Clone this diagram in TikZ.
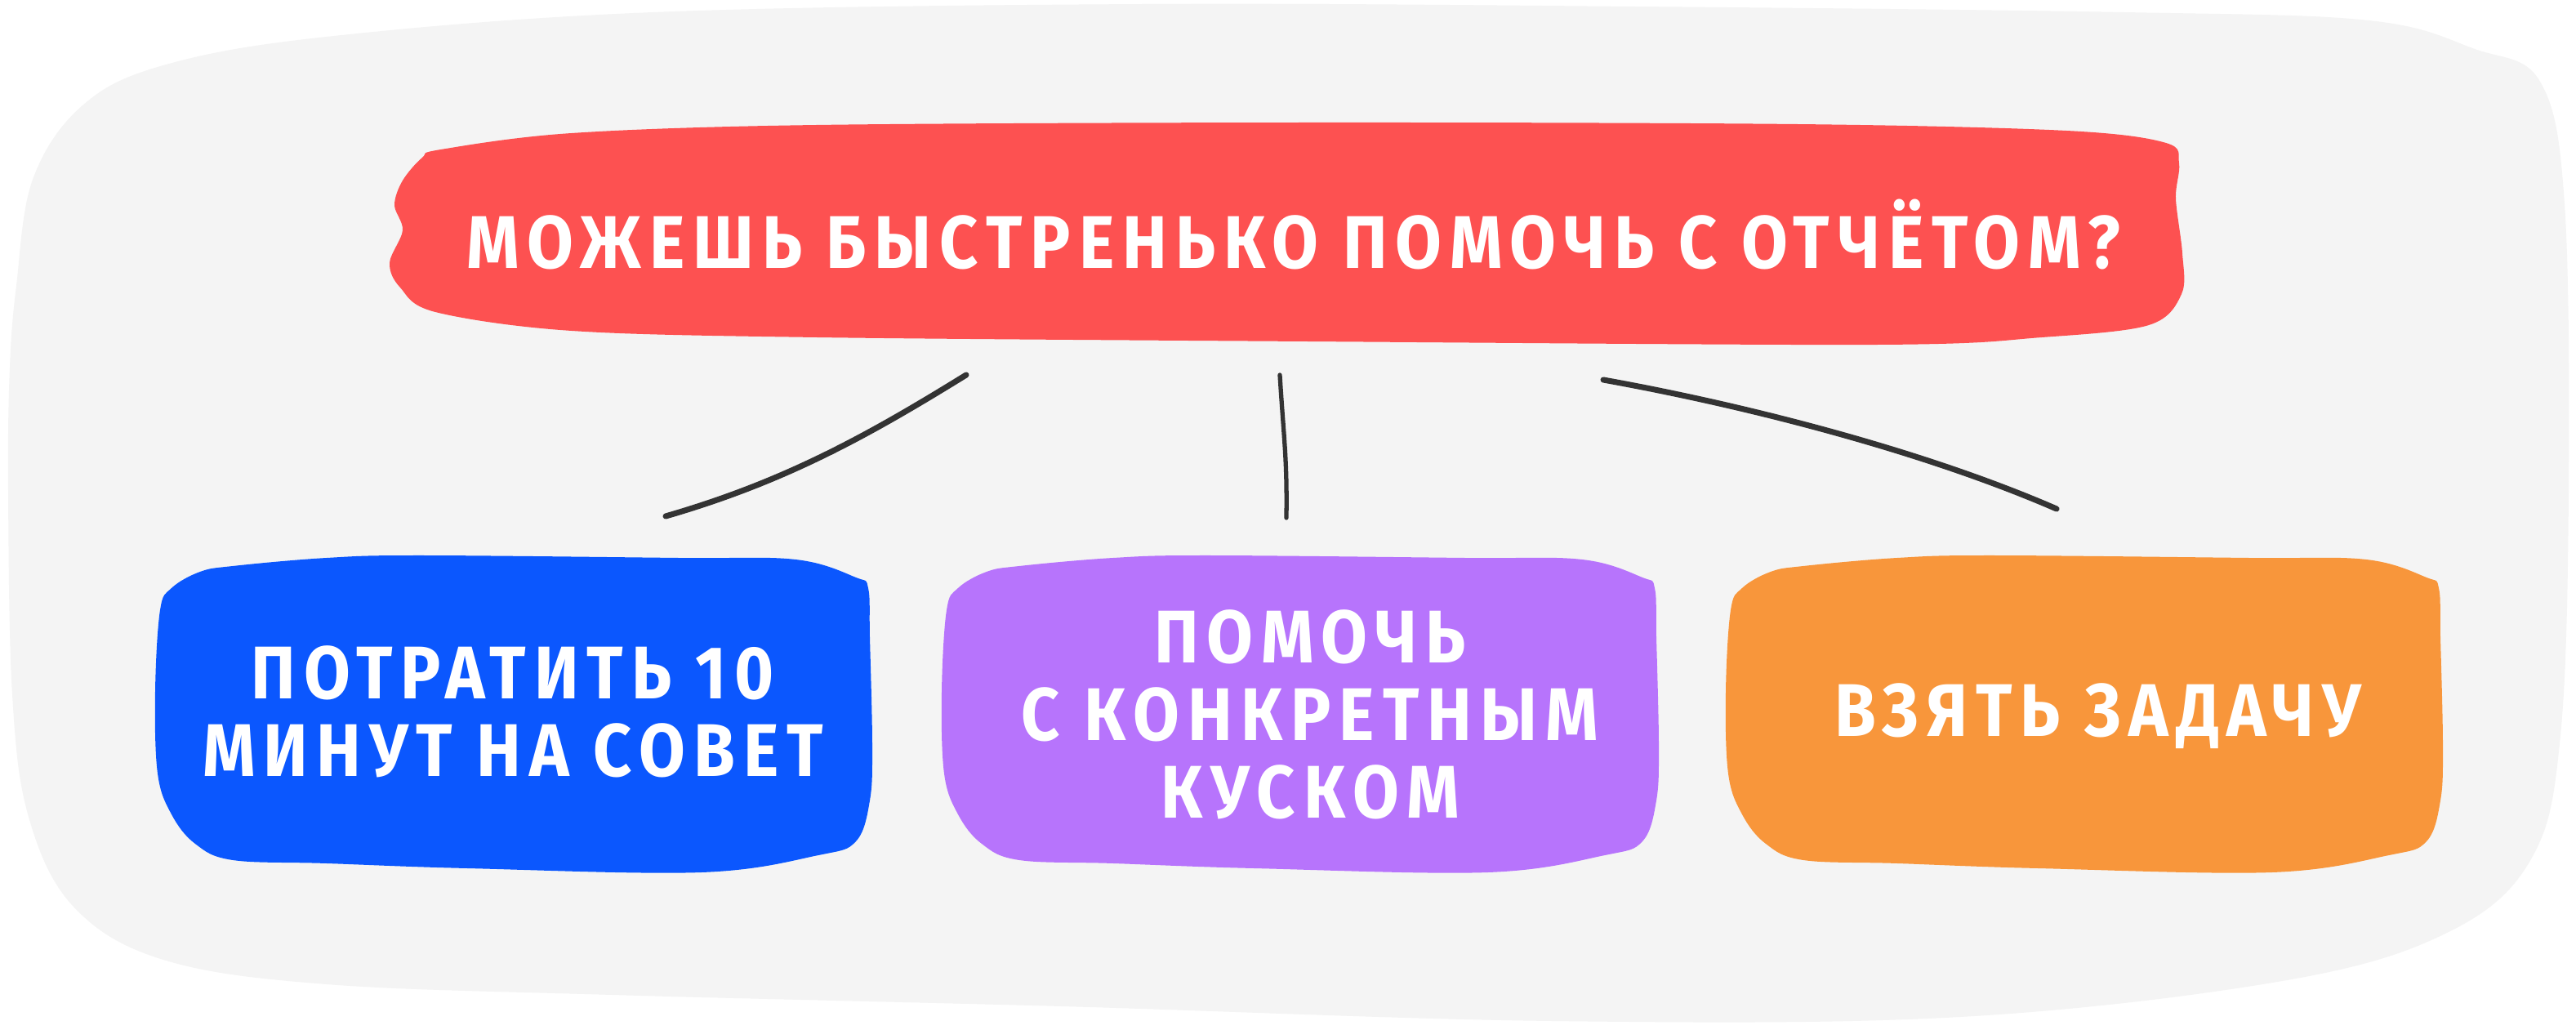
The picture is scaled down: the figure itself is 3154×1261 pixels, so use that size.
\documentclass[tikz,border=0pt]{standalone}
\usepackage{fontspec}
\newfontfamily\handfont{Fira Sans}[FakeStretch=0.9,LetterSpace=11]
\definecolor{boardgray}{HTML}{F4F4F4}
\definecolor{askred}{HTML}{FD5151}
\definecolor{optblue}{HTML}{0B57FE}
\definecolor{optviolet}{HTML}{B774FC}
\definecolor{optorange}{HTML}{F8963B}
\definecolor{linkgray}{HTML}{333333}
\begin{document}
\begin{tikzpicture}[
				x=0.1mm, y=-0.1mm,
				caption/.style={text=white, align=center, inner sep=0pt,
					font=\handfont\bfseries\fontsize{26}{27}\selectfont},
				link/.style={draw=linkgray, line width=2pt, line cap=round},
				card/.pic={\path[pic actions] plot[smooth cycle, tension=0.6] coordinates {
						(-227,-188) (-113,-191) (203,-188) (347,-186) (421,-164) (436,-151)
						(438,-91) (441,42) (438,109) (421,159) (375,176) (232,197)
						(-55,192) (-227,186) (-342,182) (-388,162) (-417,126) (-434,76)
						(-437,-24) (-431,-124) (-417,-151) (-382,-171) (-342,-178)};}
			]
			\useasboundingbox (0,0) rectangle (3154,1261);
			\fill[white] (0,0) rectangle (3154,1261);
			\fill[boardgray] plot[smooth cycle, tension=0.6] coordinates {
					(20,350) (40,220) (100,130) (200,80) (400,45) (800,15) (1400,5)
					(2000,8) (2600,15) (2900,25) (3030,60) (3110,100) (3140,250)
					(3145,600) (3135,900) (3100,1050) (3000,1140) (2800,1200)
					(2400,1245) (1900,1250) (1300,1232) (750,1218) (400,1205)
					(200,1175) (90,1110) (35,1000) (15,850) (10,600) (12,450)};
			\fill[askred] plot[smooth cycle, tension=0.55] coordinates {
					(540,183) (700,163) (1000,153) (1600,150) (2200,152) (2530,160)
					(2652,175) (2668,200) (2664,243) (2672,310) (2671,360) (2631,398)
					(2500,413) (2300,422) (1600,418) (1000,413) (700,405) (533,382)
					(490,352) (477,322) (493,282) (483,251) (493,221) (517,193)};
			\pic[fill=optblue] at (627,871) {card};
			\pic[fill=optviolet] at (1590,871) {card};
			\pic[fill=optorange] at (2550,871) {card};

			\node[caption] (ask) at (1584,287) {МОЖЕШЬ БЫСТРЕНЬКО ПОМОЧЬ С ОТЧЁТОМ?};
			\node[caption] (advice) at (628,871) {ПОТРАТИТЬ 10\\МИНУТ НА СОВЕТ};
			\node[caption] (part) at (1604,875) {ПОМОЧЬ\\С КОНКРЕТНЫМ\\КУСКОМ};
			\node[caption] (task) at (2569,877) {ВЗЯТЬ ЗАДАЧУ};

			\coordinate (ask-l) at (1183,459);
			\coordinate (ask-m) at (1567,459);
			\coordinate (ask-r) at (1963,465);
			\coordinate (advice-top) at (815,632);
			\coordinate (part-top) at (1575,634);
			\coordinate (task-top) at (2518,623);

			\draw[link] (ask-l) .. controls (1060,535) and (960,590) .. (advice-top);
			\draw[link, line width=1.5pt] (ask-m) .. controls (1572,540) and (1576,560) .. (part-top);
			\draw[link] (ask-r) .. controls (2130,495) and (2350,550) .. (task-top);
		\end{tikzpicture}
\end{document}
